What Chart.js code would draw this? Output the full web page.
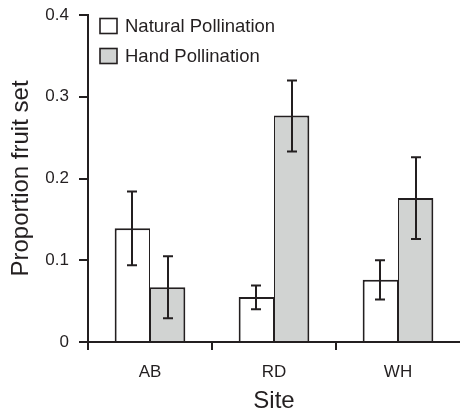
<!DOCTYPE html>
<html>
<head>
<meta charset="utf-8">
<script src="https://cdn.jsdelivr.net/npm/chart.js@4.4.0/dist/chart.umd.min.js"></script>
<style>
  html, body { margin: 0; padding: 0; background: #fff; overflow: hidden; }
  #wrap { width: 460px; height: 414px; }
</style>
</head>
<body>
<div id="wrap"><canvas id="chart" width="460" height="414"></canvas></div>
<script>
// data
const SITES = ["AB", "RD", "WH"];
const SERIES_NAMES = ["Natural Pollination", "Hand Pollination"];
const NATURAL = [0.139, 0.055, 0.076];
const NATURAL_LOW = [0.094, 0.040, 0.052];
const NATURAL_HIGH = [0.184, 0.069, 0.100];
const HAND = [0.067, 0.277, 0.176];
const HAND_LOW = [0.029, 0.233, 0.126];
const HAND_HIGH = [0.105, 0.320, 0.226];
const Y_TICK_LABELS = ["0", "0.1", "0.2", "0.3", "0.4"];

const INK = "#231f20";
const FONT = "'Liberation Sans', Arial, Helvetica, sans-serif";

// vertical error bars with caps, drawn over the bars
const errorBars = {
  id: "errorBars",
  afterDatasetsDraw(chart) {
    const { ctx } = chart;
    const y = chart.scales.y;
    ctx.save();
    ctx.strokeStyle = INK;
    ctx.lineWidth = 2;
    chart.data.datasets.forEach((ds, i) => {
      chart.getDatasetMeta(i).data.forEach((bar, j) => {
        const hi = y.getPixelForValue(ds.errHigh[j]);
        const lo = y.getPixelForValue(ds.errLow[j]);
        const x = Math.round(bar.x);
        ctx.beginPath();
        ctx.moveTo(x, hi);
        ctx.lineTo(x, lo);
        ctx.moveTo(x - 5, hi);
        ctx.lineTo(x + 5, hi);
        ctx.moveTo(x - 5, lo);
        ctx.lineTo(x + 5, lo);
        ctx.stroke();
      });
    });
    ctx.restore();
  },
};

// legend sits inside the plot, top left
const insideLegend = {
  id: "insideLegend",
  afterDraw(chart) {
    const { ctx, chartArea } = chart;
    ctx.save();
    ctx.font = "18.5px " + FONT;
    ctx.textBaseline = "middle";
    ctx.textAlign = "left";
    chart.data.datasets.forEach((ds, i) => {
      const bx = chartArea.left + 12;
      const by = chartArea.top + 3.5 + i * 30;
      ctx.fillStyle = ds.backgroundColor;
      ctx.fillRect(bx, by, 17, 15);
      ctx.strokeStyle = INK;
      ctx.lineWidth = 1.6;
      ctx.strokeRect(bx, by, 17, 15);
      ctx.fillStyle = INK;
      ctx.fillText(ds.label, bx + 25, by + 8.5);
    });
    ctx.restore();
  },
};

new Chart(document.getElementById("chart"), {
  type: "bar",
  data: {
    labels: SITES,
    datasets: [
      {
        label: SERIES_NAMES[0],
        data: NATURAL,
        errLow: NATURAL_LOW,
        errHigh: NATURAL_HIGH,
        backgroundColor: "#ffffff",
        borderColor: INK,
        borderWidth: { top: 2, left: 2, right: 1, bottom: 0 },
        categoryPercentage: 0.57,
        barPercentage: 1.0,
      },
      {
        label: SERIES_NAMES[1],
        data: HAND,
        errLow: HAND_LOW,
        errHigh: HAND_HIGH,
        backgroundColor: "#d1d3d2",
        borderColor: INK,
        borderWidth: { top: 2, left: 1, right: 2, bottom: 0 },
        categoryPercentage: 0.57,
        barPercentage: 1.0,
      },
    ],
  },
  options: {
    responsive: false,
    animation: false,
    devicePixelRatio: 1,
    layout: { padding: { left: 7, right: 0, top: 15, bottom: 0 } },
    plugins: {
      legend: { display: false },
      tooltip: { enabled: false },
    },
    scales: {
      x: {
        z: 1,
        afterFit: (s) => { s.height = 72; },
        grid: {
          offset: true,
          drawOnChartArea: false,
          tickLength: 8,
          lineWidth: 2,
          color: INK,
          tickColor: (c) => (c.type === "tick" ? INK : "rgba(0,0,0,0)"),
        },
        border: { color: INK, width: 2 },
        ticks: { color: INK, font: { family: FONT, size: 17 }, padding: 12 },
        title: {
          display: true,
          text: "Site",
          color: INK,
          font: { family: FONT, size: 24, lineHeight: 1.05 },
          padding: { top: 3, bottom: 0 },
        },
      },
      y: {
        min: 0,
        max: 0.4,
        afterFit: (s) => { s.width = 81; s.paddingTop = 0; },
        grid: { drawOnChartArea: false, tickLength: 9, lineWidth: 2, color: INK },
        border: { color: INK, width: 2 },
        ticks: {
          stepSize: 0.1,
          color: INK,
          font: { family: FONT, size: 17 },
          padding: 10,
          callback: (v, i) => Y_TICK_LABELS[i],
        },
        title: {
          display: true,
          text: "Proportion fruit set",
          color: INK,
          font: { family: FONT, size: 24 },
          padding: { top: 0, bottom: 9 },
        },
      },
    },
  },
  plugins: [errorBars, insideLegend],
});
</script>
</body>
</html>
